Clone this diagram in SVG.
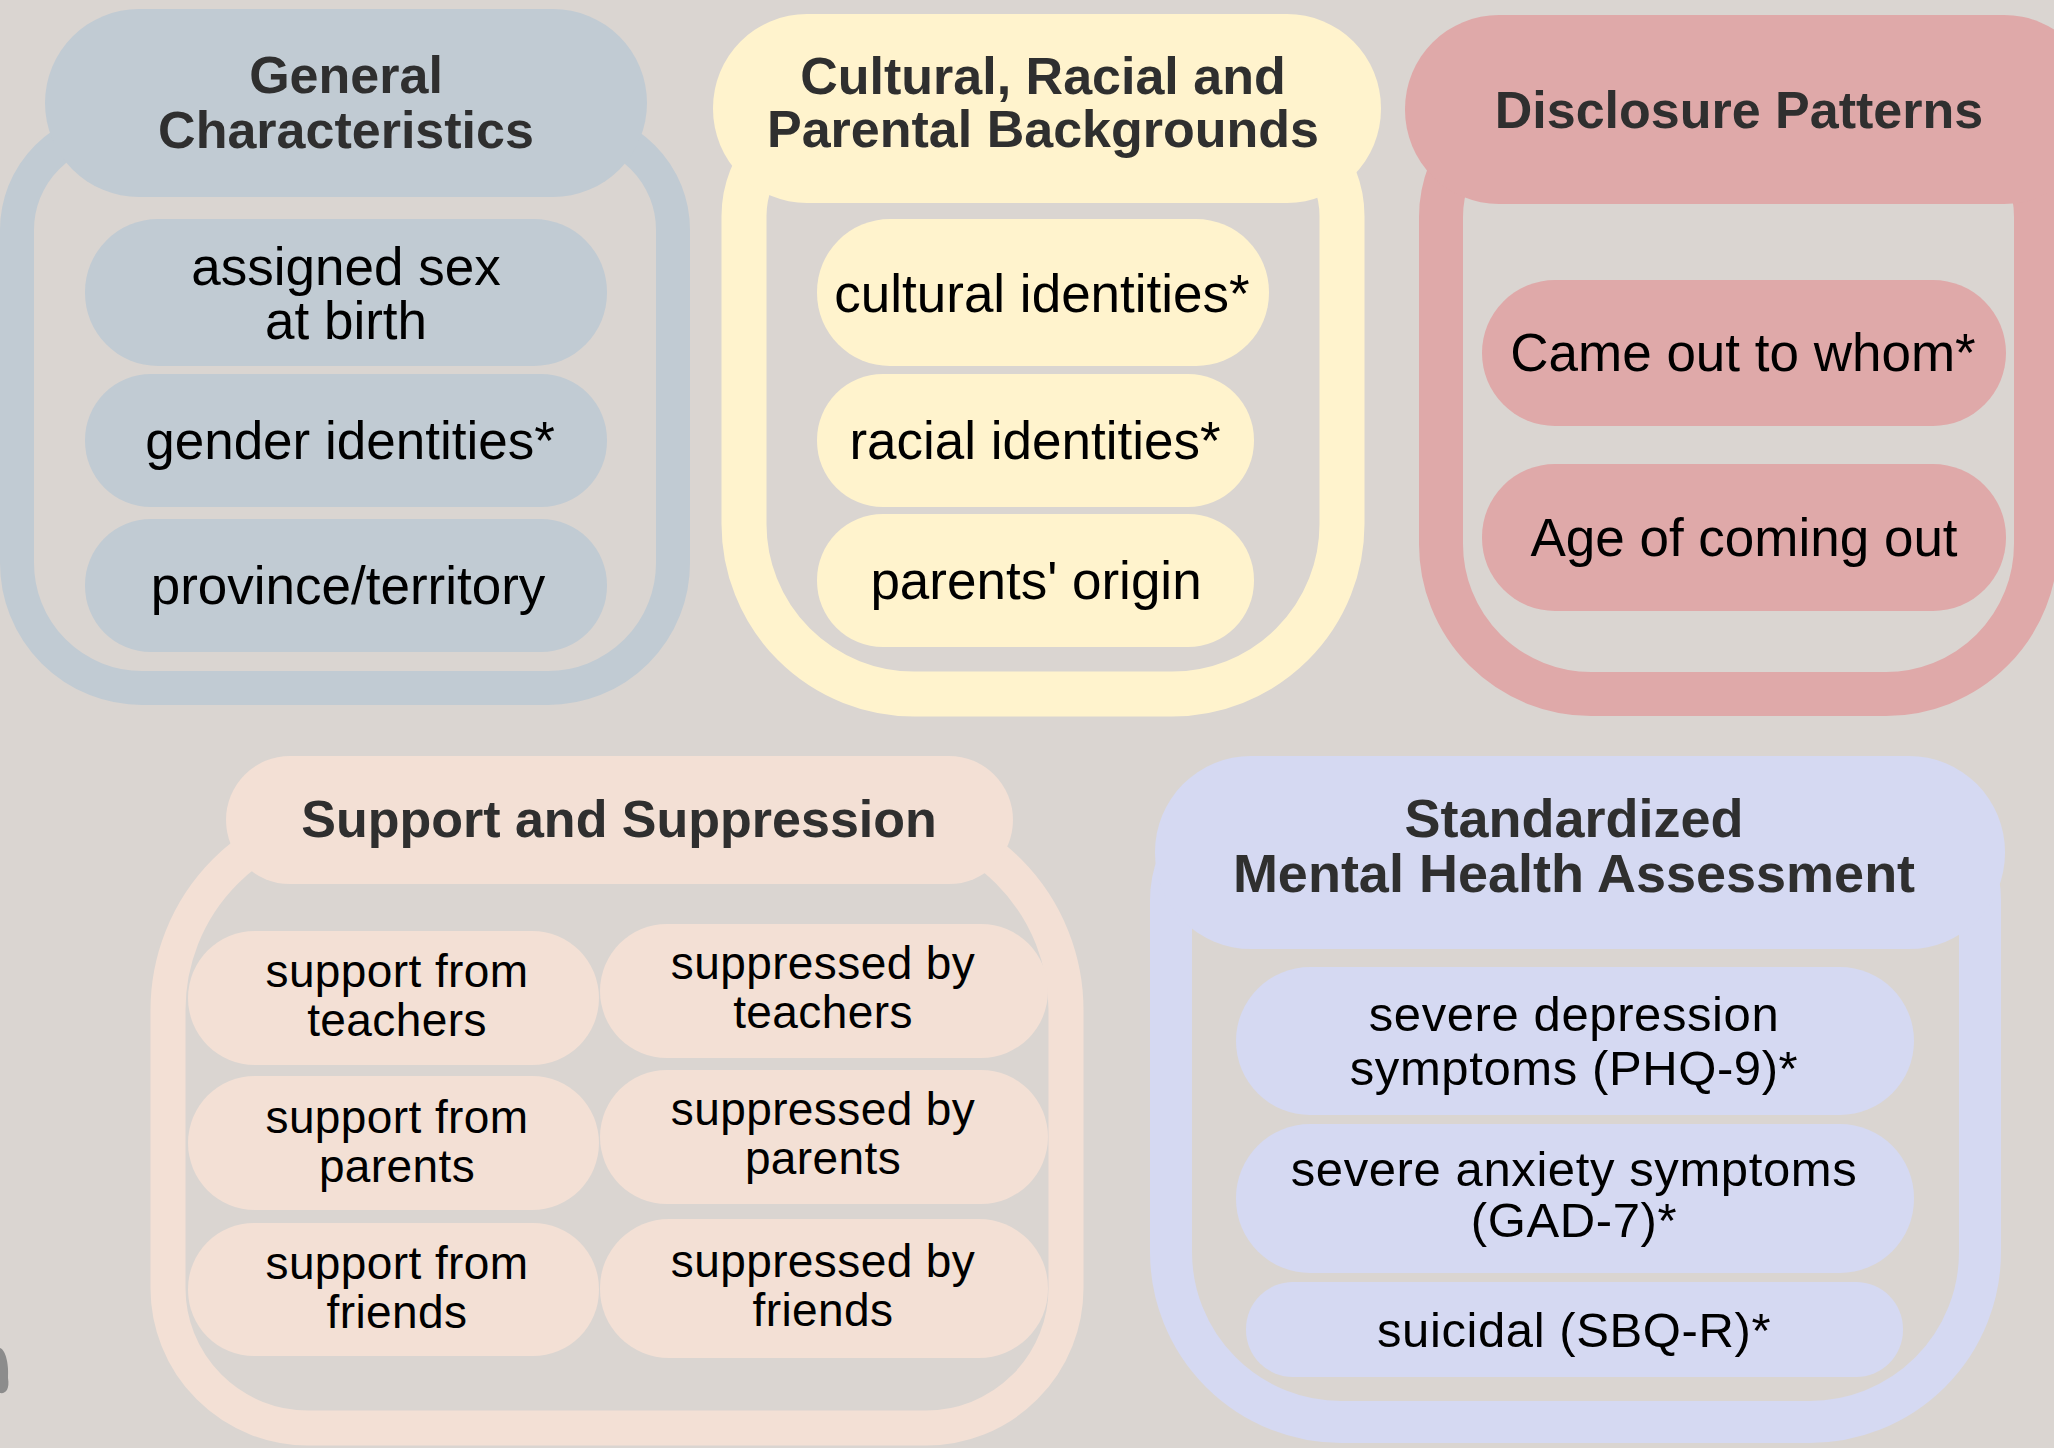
<svg xmlns="http://www.w3.org/2000/svg" width="2054" height="1448" viewBox="0 0 2054 1448">
<style>
.h{font-family:"Liberation Sans",Arial,sans-serif;font-weight:bold;font-size:52px;fill:#2f2f2f;text-anchor:middle}
.h5{font-size:54px}
.t{font-family:"Liberation Sans",Arial,sans-serif;font-size:53px;fill:#000;text-anchor:middle}
.t4{font-family:"Liberation Sans",Arial,sans-serif;font-size:46px;letter-spacing:0.4px;fill:#000;text-anchor:middle}
.t5{font-family:"Liberation Sans",Arial,sans-serif;font-size:49px;letter-spacing:0.6px;fill:#000;text-anchor:middle}
.frame{fill:none}
.c1{fill:#c1cbd3}.s1{stroke:#c1cbd3}
.c2{fill:#fff3cd}.s2{stroke:#fff3cd}
.c3{fill:#dfa9a9}.s3{stroke:#dfa9a9}
.c4{fill:#f3e0d5}.s4{stroke:#f3e0d5}
.c5{fill:#d5d9f2}.s5{stroke:#d5d9f2}
</style>
<rect width="2054" height="1448" fill="#dad5d1"/>
<path d="M0,1348 C6,1350 9,1365 8,1378 C10,1390 5,1394 0,1393 Z" fill="#8c8c8c"/>

<g id="general-characteristics">
<path class="frame s1" stroke-width="34" d="M120,127 H570 A103,103 0 0 1 673,230 V563 A125,125 0 0 1 548,688 H142 A125,125 0 0 1 17,563 V230 A103,103 0 0 1 120,127 Z"/>
<g id="gc-header"><rect class="c1" x="45" y="9" width="602" height="188" rx="94"/>
<text class="h" x="346" y="93" font-size="53">General</text><text class="h" x="346" y="148" font-size="53">Characteristics</text></g>
<g id="gc-sex"><rect class="c1" x="85" y="219" width="522" height="147" rx="73"/>
<text class="t" x="346" y="285">assigned sex</text><text class="t" x="346" y="339">at birth</text></g>
<g id="gc-gender"><rect class="c1" x="85" y="374" width="522" height="133" rx="66"/>
<text class="t" x="350" y="459">gender identities*</text></g>
<g id="gc-province"><rect class="c1" x="85" y="519" width="522" height="133" rx="66"/>
<text class="t" x="348" y="604">province/territory</text></g>
</g>

<g id="cultural-racial-parental">
<path class="frame s2" stroke-width="45" d="M846,114 H1240 A102,102 0 0 1 1342,216 V524 A170,170 0 0 1 1172,694 H914 A170,170 0 0 1 744,524 V216 A102,102 0 0 1 846,114 Z"/>
<g id="crp-header"><rect class="c2" x="713" y="14" width="668" height="189" rx="94"/>
<text class="h" x="1043" y="94">Cultural, Racial and</text><text class="h" x="1043" y="147">Parental Backgrounds</text></g>
<g id="crp-cultural"><rect class="c2" x="817" y="219" width="452" height="147" rx="73"/>
<text class="t" x="1042" y="312">cultural identities*</text></g>
<g id="crp-racial"><rect class="c2" x="817" y="374" width="437" height="133" rx="66"/>
<text class="t" x="1035" y="459">racial identities*</text></g>
<g id="crp-parents"><rect class="c2" x="817" y="514" width="437" height="133" rx="66"/>
<text class="t" x="1036" y="599">parents' origin</text></g>
</g>

<g id="disclosure-patterns">
<path class="frame s3" stroke-width="44" d="M1561,97 H1916 A120,120 0 0 1 2036,217 V544 A150,150 0 0 1 1886,694 H1591 A150,150 0 0 1 1441,544 V217 A120,120 0 0 1 1561,97 Z"/>
<g id="dp-header"><rect class="c3" x="1405" y="15" width="693" height="189" rx="94"/>
<text class="h" x="1739" y="128">Disclosure Patterns</text></g>
<g id="dp-whom"><rect class="c3" x="1482" y="280" width="524" height="146" rx="73"/>
<text class="t" x="1743" y="371">Came out to whom*</text></g>
<g id="dp-age"><rect class="c3" x="1482" y="464" width="524" height="147" rx="73"/>
<text class="t" x="1744" y="556">Age of coming out</text></g>
</g>

<g id="support-suppression">
<path class="frame s4" stroke-width="35" d="M364,814 H870 A196,196 0 0 1 1066,1010 V1288 A140,140 0 0 1 926,1428 H308 A140,140 0 0 1 168,1288 V1010 A196,196 0 0 1 364,814 Z"/>
<g id="ss-header"><rect class="c4" x="226" y="756" width="787" height="128" rx="64"/>
<text class="h" x="619" y="837">Support and Suppression</text></g>
<g id="ss-support-teachers"><rect class="c4" x="188" y="931" width="411" height="134" rx="67"/>
<text class="t4" x="397" y="987">support from</text><text class="t4" x="397" y="1036">teachers</text></g>
<g id="ss-support-parents"><rect class="c4" x="188" y="1076" width="411" height="134" rx="67"/>
<text class="t4" x="397" y="1133">support from</text><text class="t4" x="397" y="1182">parents</text></g>
<g id="ss-support-friends"><rect class="c4" x="188" y="1223" width="411" height="133" rx="66"/>
<text class="t4" x="397" y="1279">support from</text><text class="t4" x="397" y="1328">friends</text></g>
<g id="ss-suppressed-teachers"><rect class="c4" x="600" y="924" width="448" height="134" rx="67"/>
<text class="t4" x="823" y="979">suppressed by</text><text class="t4" x="823" y="1028">teachers</text></g>
<g id="ss-suppressed-parents"><rect class="c4" x="600" y="1070" width="448" height="134" rx="67"/>
<text class="t4" x="823" y="1125">suppressed by</text><text class="t4" x="823" y="1174">parents</text></g>
<g id="ss-suppressed-friends"><rect class="c4" x="600" y="1219" width="448" height="139" rx="69"/>
<text class="t4" x="823" y="1277">suppressed by</text><text class="t4" x="823" y="1326">friends</text></g>
</g>

<g id="mental-health-assessment">
<path class="frame s5" stroke-width="42" d="M1271,800 H1880 A100,100 0 0 1 1980,900 V1252 A170,170 0 0 1 1810,1422 H1341 A170,170 0 0 1 1171,1252 V900 A100,100 0 0 1 1271,800 Z"/>
<g id="mh-header"><rect class="c5" x="1155" y="756" width="850" height="193" rx="96"/>
<text class="h h5" x="1574" y="837">Standardized</text><text class="h h5" x="1574" y="892">Mental Health Assessment</text></g>
<g id="mh-depression"><rect class="c5" x="1236" y="967" width="678" height="148" rx="74"/>
<text class="t5" x="1574" y="1031">severe depression</text><text class="t5" x="1574" y="1085">symptoms (PHQ-9)*</text></g>
<g id="mh-anxiety"><rect class="c5" x="1236" y="1124" width="678" height="149" rx="74"/>
<text class="t5" x="1574" y="1186">severe anxiety symptoms</text><text class="t5" x="1574" y="1237">(GAD-7)*</text></g>
<g id="mh-suicidal"><rect class="c5" x="1246" y="1282" width="657" height="95" rx="47"/>
<text class="t5" x="1574" y="1347">suicidal (SBQ-R)*</text></g>
</g>

<g id="connectors"/>
</svg>
